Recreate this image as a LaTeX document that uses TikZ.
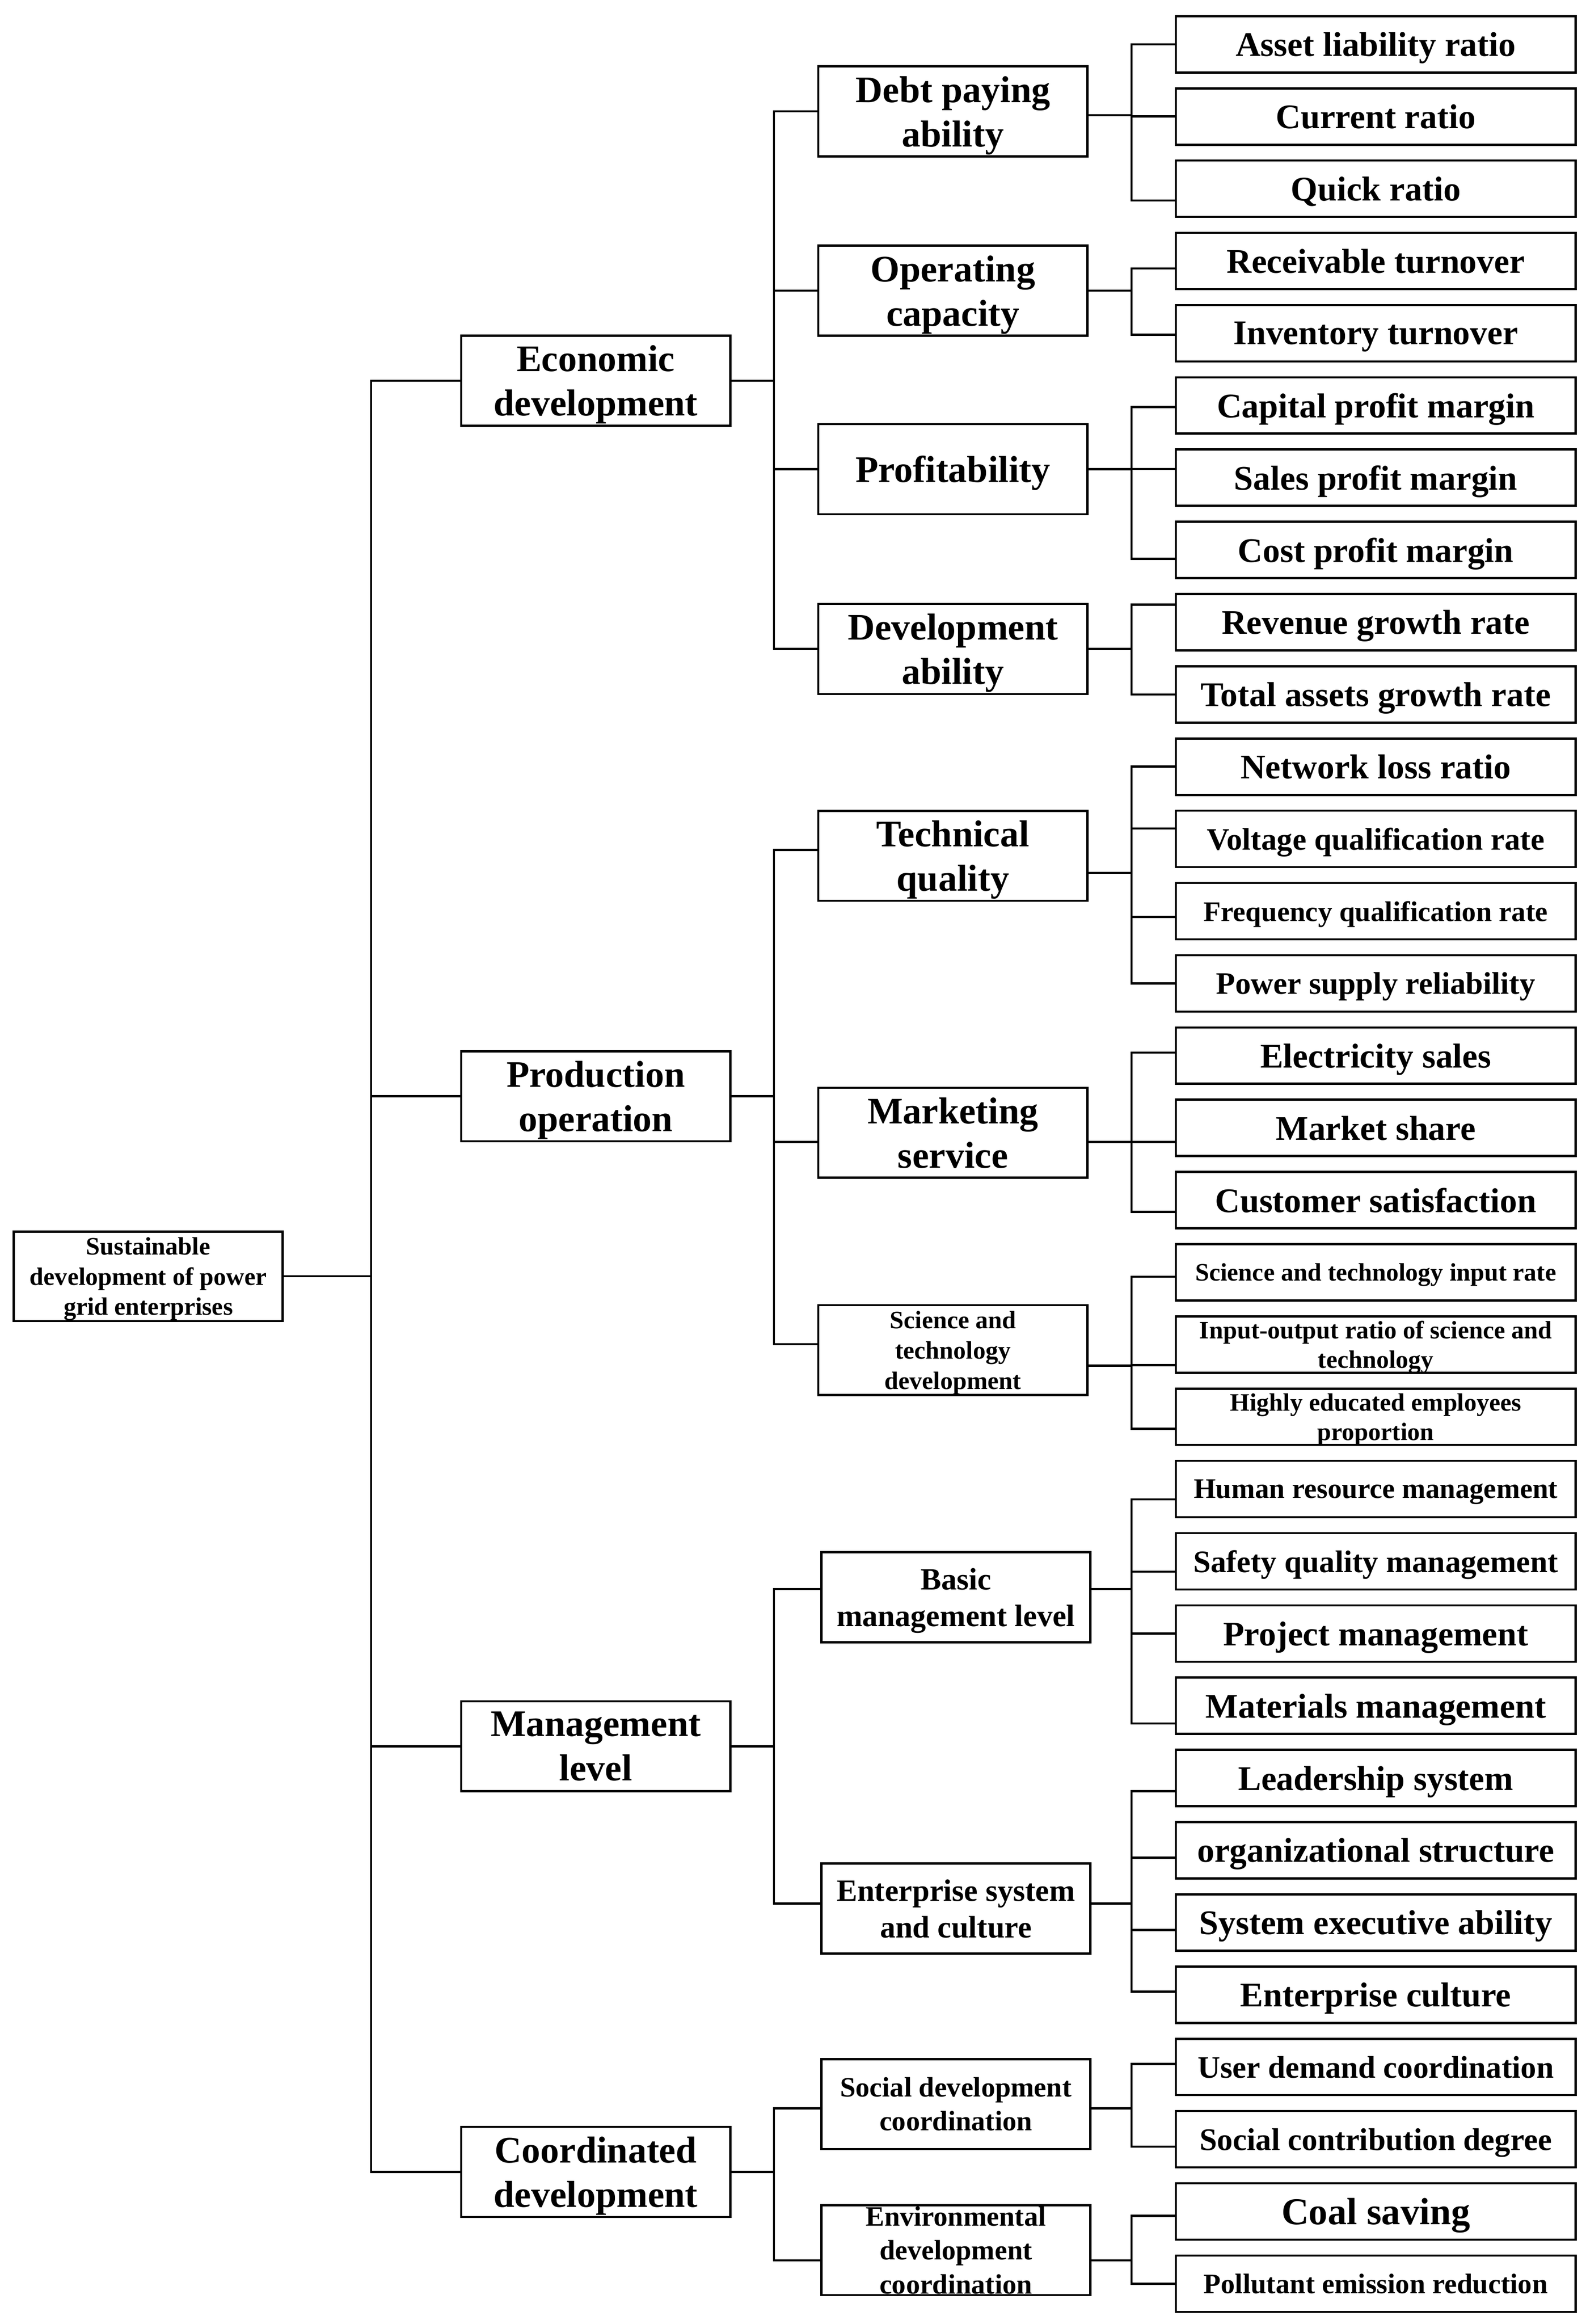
\documentclass[tikz,border=0pt]{standalone}
\usepackage{fontspec}
\setmainfont{Liberation Serif}
\newcommand\fsz[2]{\fontsize{#1pt}{#2pt}\selectfont\bfseries}
\begin{document}
\begin{tikzpicture}[x=1pt,y=-1pt,
  box/.style={draw, line width=1.5pt, inner sep=0pt, align=center, text depth=0pt, minimum width=182.4pt, minimum height=61pt},
  leafbox/.style={box, minimum width=271pt, minimum height=38.2pt},
  conn/.style={line width=1.5pt, line cap=rect}]
\useasboundingbox[fill=white] (0,0) rectangle (1075,1575.1);
\coordinate (b1) at (251.5,0);
\coordinate (b2) at (524.6,0);
\coordinate (b3) at (767,0);
% root
\node[box, minimum width=182.3pt, minimum height=60.7pt, font=\fsz{17}{20.5}] (root) at (100.5,865) {Sustainable\\development of power\\grid enterprises};
% level 1
\node[box, font=\fsz{25.4}{30}] (econ) at (403.8,258) {Economic\\development};
\node[box, font=\fsz{25.4}{30}] (prod) at (403.8,743) {Production\\operation};
\node[box, font=\fsz{25.4}{30}] (mgmt) at (403.8,1183.5) {Management\\level};
\node[box, font=\fsz{25.4}{30}] (coord) at (403.8,1472) {Coordinated\\development};
% level 2
\node[box, font=\fsz{25.4}{30}] (debt) at (645.9,75.5) {Debt paying\\ability};
\node[box, font=\fsz{25.4}{30}] (oper) at (645.9,197) {Operating\\capacity};
\node[box, font=\fsz{25.4}{30}] (prof) at (645.9,318) {Profitability};
\node[box, font=\fsz{25.4}{30}] (devab) at (645.9,439.8) {Development\\ability};
\node[box, font=\fsz{25.4}{30}] (tech) at (645.9,580) {Technical\\quality};
\node[box, font=\fsz{25.4}{30}] (mkt) at (645.9,767.7) {Marketing\\service};
\node[box, font=\fsz{17}{20.5}] (sci) at (645.9,915) {Science and\\technology\\development};
\node[box, font=\fsz{21}{25}] (basic) at (647.9,1082.5) {Basic\\management level};
\node[box, font=\fsz{21}{25}] (ent) at (647.9,1293.5) {Enterprise system\\and culture};
\node[box, font=\fsz{19}{23}] (soc) at (647.9,1426) {Social development\\coordination};
\node[box, font=\fsz{19}{23}] (env) at (647.9,1525) {Environmental\\development\\coordination};
% leaves
\foreach \i/\sz/\t in {
  1/23.4/{Asset liability ratio},
  2/23.4/{Current ratio},
  3/23.4/{Quick ratio},
  4/23.4/{Receivable turnover},
  5/23.4/{Inventory turnover},
  6/23.4/{Capital profit margin},
  7/23.4/{Sales profit margin},
  8/23.4/{Cost profit margin},
  9/23.4/{Revenue growth rate},
  10/23.4/{Total assets growth rate},
  11/23.4/{Network loss ratio},
  12/21.2/{Voltage qualification rate},
  13/19.2/{Frequency qualification rate},
  14/21.2/{Power supply reliability},
  15/23.4/{Electricity sales},
  16/23.4/{Market share},
  17/23.4/{Customer satisfaction},
  18/17/{Science and technology input rate},
  19/17/{Input-output ratio of science and\\technology},
  20/17/{Highly educated employees\\proportion},
  21/19.2/{Human resource management},
  22/21.2/{Safety quality management},
  23/23.4/{Project management},
  24/23.4/{Materials management},
  25/23.4/{Leadership system},
  26/23.4/{organizational structure},
  27/23.4/{System executive ability},
  28/23.4/{Enterprise culture},
  29/21.2/{User demand coordination},
  30/21.3/{Social contribution degree},
  31/25.7/{Coal saving},
  32/19.1/{Pollutant emission reduction}}
  \node[leafbox, font=\fsz{\sz}{20}] (l\i) at (932.5,{30+(\i-1)*48.96}) {\t};
% leaf connectors
\foreach \i/\o in {1/0,2/0,3/-8,4/-5,5/-1,6/-1,7/6,8/-6,9/12,10/0,11/0,12/7,13/-4,14/0,15/2,16/-9.5,
  17/-8,18/-3,19/-14,20/-8,21/-7,22/-7,23/0,24/-12,25/-9,26/-5,27/-5,28/2,29/2,30/-5,31/-3,32/0}{
  \path ([yshift=\o pt]l\i.west) coordinate (c\i);
  \draw[conn] (c\i) -- (c\i -| b3);
}
% leaf brackets
\foreach \a/\b in {1/3,4/5,6/8,9/10,11/14,15/17,18/20,21/24,25/28,29/30,31/32}
  \draw[conn] (c\a -| b3) -- (c\b -| b3);
% level 2 connectors
\foreach \n/\lo/\ro in {debt/0/-2.6, oper/0/0, prof/0/0, devab/0/0, tech/4/-11.6, mkt/-6.2/-6.2,
  sci/4/-10.5, basic/5.5/5.5, ent/3.5/3.5, soc/-3/-3, env/-7/-7}{
  \path ([yshift=\lo pt]\n.west) coordinate (\n L);
  \path ([yshift=\ro pt]\n.east) coordinate (\n R);
  \draw[conn] (\n L) -- (\n L -| b2);
  \draw[conn] (\n R) -- (\n R -| b3);
}
% level 2 buses
\draw[conn] (debtL -| b2) -- (devabL -| b2);
\draw[conn] (techL -| b2) -- (sciL -| b2);
\draw[conn] (basicL -| b2) -- (entL -| b2);
\draw[conn] (socL -| b2) -- (envL -| b2);
% level 1 connectors
\foreach \n in {econ,prod,mgmt,coord}{
  \draw[conn] (\n.west) -- (\n.west -| b1);
  \draw[conn] (\n.east) -- (\n.east -| b2);
}
\draw[conn] (econ.west -| b1) -- (coord.west -| b1);
\draw[conn] (root.east) -- (root.east -| b1);
\end{tikzpicture}
\end{document}
